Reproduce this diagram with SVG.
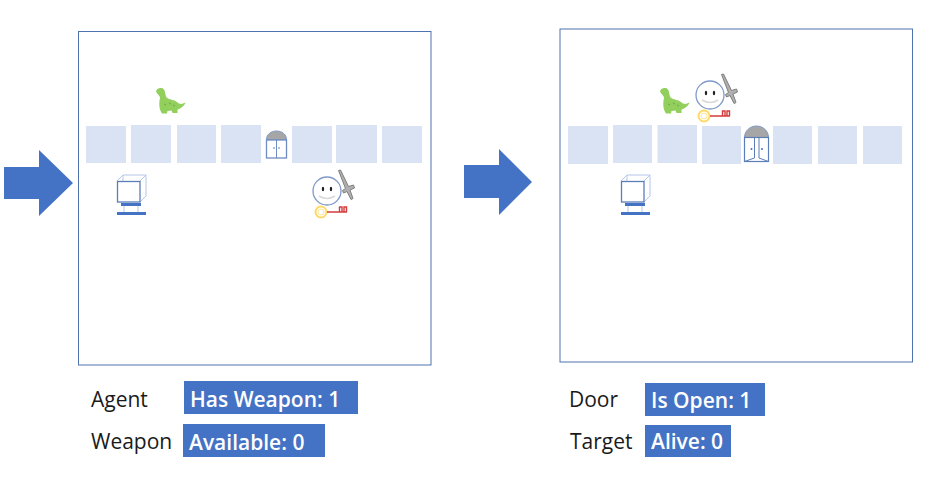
<svg xmlns="http://www.w3.org/2000/svg" width="949" height="490" viewBox="0 0 949 490">
<style>
.panel{fill:#fff;stroke:#4f73ae;stroke-width:1}
.tile{fill:#dae3f3}
.arrow{fill:#4472c4}
.badge{fill:#4472c4}
.lbl{font-family:"Open Sans","Liberation Sans",sans-serif;font-size:21px;fill:#1a1a1a}
.val{font-family:"Open Sans","Liberation Sans",sans-serif;font-size:21px;font-weight:600;fill:#fff}
.ol{fill:#fff;stroke:#5b7db8;stroke-width:1.3}
.lt{fill:none;stroke:#b4c7e7;stroke-width:1}
.bar{fill:#4472c4}
.eye{fill:#222}
</style>
<defs>
<g id="dino">
<path d="M156 91.500C156.500 88 161.500 87 164 89.500C165.500 91.500 165 95 166.500 97.500C169.500 100 174 99.500 177 102C179.500 104.500 182 104.500 185.500 102.500C184 106.500 180 109 177.500 109.500L177.500 113L172.500 113L171.500 110.500L167.500 111L167 113.500L162 113.500C159.500 110 158.500 104 160 98C160 95.500 157.500 94.500 156 91.500Z" fill="#92cf5c"/>
<path d="M164 104l2 1M169 103l2 1M173 105l2 1" stroke="#6eaa40" stroke-width="1" fill="none"/>
</g>
<g id="monitor">
<path class="lt" d="M117 181L123 175H146V196L140 202M140 181L146 175M123 175V181"/>
<rect class="ol" x="117.500" y="181.500" width="22.500" height="20.500"/>
<path class="lt" d="M124 206V212M138 206V212"/>
<rect class="bar" x="121" y="203" width="20" height="3"/>
<rect class="bar" x="117" y="212" width="29" height="3"/>
</g>
<g id="agent">
<circle cx="327" cy="191" r="14" fill="#fff" stroke="#7f99c8" stroke-width="1.300"/>
<ellipse class="eye" cx="323" cy="189" rx="1.200" ry="2.300"/>
<ellipse class="eye" cx="331" cy="189" rx="1.200" ry="2.300"/>
<path d="M319 196Q327 201 335 196" fill="none" stroke="#d9d9d9" stroke-width="1.500"/>
<path d="M338.500 170.500L340.500 170L348.500 186.500L353.500 185L354.500 188L350 190L353 198.500L351 199.500L347 191.500L343.500 193L342.500 190.500L345.500 188.500Z" fill="#b0b0b0" stroke="#7f7f7f" stroke-width="1"/>
<circle cx="321" cy="212" r="5.500" fill="#fff" stroke="#ffd966" stroke-width="2"/>
<circle cx="321" cy="212" r="3" fill="none" stroke="#ffe699" stroke-width="1"/>
<path d="M327 212H347M339.500 212V207H342V212M344 212V207H346.500V212" fill="none" stroke="#d43b3b" stroke-width="1.400"/>
</g>
</defs>
<g id="arrow-left"><polygon class="arrow" points="4,167 39,167 39,150 73,183 39,216 39,199 4,199"/></g>
<g id="arrow-right"><polygon class="arrow" points="464,165 499,165 499,149 532,182 499,215 499,198 464,198"/></g>
<g id="panel-left">
<rect class="panel" x="78.500" y="31.500" width="352.500" height="333.500"/>
<rect class="tile" x="86" y="126" width="40" height="37"/>
<rect class="tile" x="131" y="125" width="40" height="38"/>
<rect class="tile" x="177" y="125" width="39" height="38"/>
<rect class="tile" x="221" y="125" width="40" height="38"/>
<rect class="tile" x="292" y="126" width="40" height="37"/>
<rect class="tile" x="336" y="125" width="41" height="38"/>
<rect class="tile" x="382" y="126" width="40" height="37"/>
</g>
<g id="door-left">
<path d="M266.500 140V139.500C266.500 134.500 271 131 276.500 131C282 131 286.500 134.500 286.500 139.500V140Z" fill="#a6a6a6" stroke="#7f99c8" stroke-width="1"/>
<rect x="266.500" y="140" width="20" height="18" fill="#fff" stroke="#6f8dc4" stroke-width="1.300"/>
<path d="M276.500 140V158" stroke="#6f8dc4" stroke-width="1"/>
<circle cx="274" cy="148" r="0.800" fill="#4472c4"/><circle cx="279" cy="148" r="0.800" fill="#4472c4"/>
</g>
<g id="dino-left"><use href="#dino"/></g>
<g id="monitor-left"><use href="#monitor"/></g>
<g id="agent-left"><use href="#agent"/></g>
<g id="panel-right">
<rect class="panel" x="560" y="29" width="352.500" height="333"/>
<rect class="tile" x="568" y="126" width="40" height="38"/>
<rect class="tile" x="613" y="125" width="39" height="38"/>
<rect class="tile" x="657.500" y="125" width="39.500" height="38"/>
<rect class="tile" x="702" y="126" width="39" height="38"/>
<rect class="tile" x="773" y="126" width="39" height="38"/>
<rect class="tile" x="818" y="126" width="39" height="38"/>
<rect class="tile" x="863" y="126" width="39" height="38"/>
</g>
<g id="door-right">
<path d="M744.500 137.500C744.500 131 750 126 756.500 126C763 126 768.500 131 768.500 137.500Z" fill="#a6a6a6" stroke="#7f99c8" stroke-width="1"/>
<rect x="744.500" y="137.500" width="24" height="24" fill="#fff" stroke="#5b7db8" stroke-width="1.200"/>
<path d="M754.500 137.500V158L744.500 161.500M759 137.500V158L768.500 161.500" fill="none" stroke="#5b7db8" stroke-width="1"/>
<circle cx="751.500" cy="149" r="1" fill="#4472c4"/><circle cx="762" cy="149" r="1" fill="#4472c4"/>
</g>
<g id="dino-right"><use href="#dino" x="504"/></g>
<g id="monitor-right"><use href="#monitor" x="504"/></g>
<g id="agent-right"><use href="#agent" x="383" y="-96"/></g>
<g id="status-agent">
<text class="lbl" x="91" y="407">Agent</text>
<rect class="badge" x="184" y="381" width="174" height="33"/>
<text class="val" x="190" y="407">Has Weapon: 1</text>
</g>
<g id="status-weapon">
<text class="lbl" x="91" y="449">Weapon</text>
<rect class="badge" x="183" y="424" width="142" height="33"/>
<text class="val" x="189" y="450">Available: 0</text>
</g>
<g id="status-door">
<text class="lbl" x="569" y="407">Door</text>
<rect class="badge" x="645" y="383" width="120" height="33"/>
<text class="val" x="651" y="408">Is Open: 1</text>
</g>
<g id="status-target">
<text class="lbl" x="570" y="449">Target</text>
<rect class="badge" x="645" y="425" width="86" height="32"/>
<text class="val" x="651" y="449">Alive: 0</text>
</g>
</svg>
